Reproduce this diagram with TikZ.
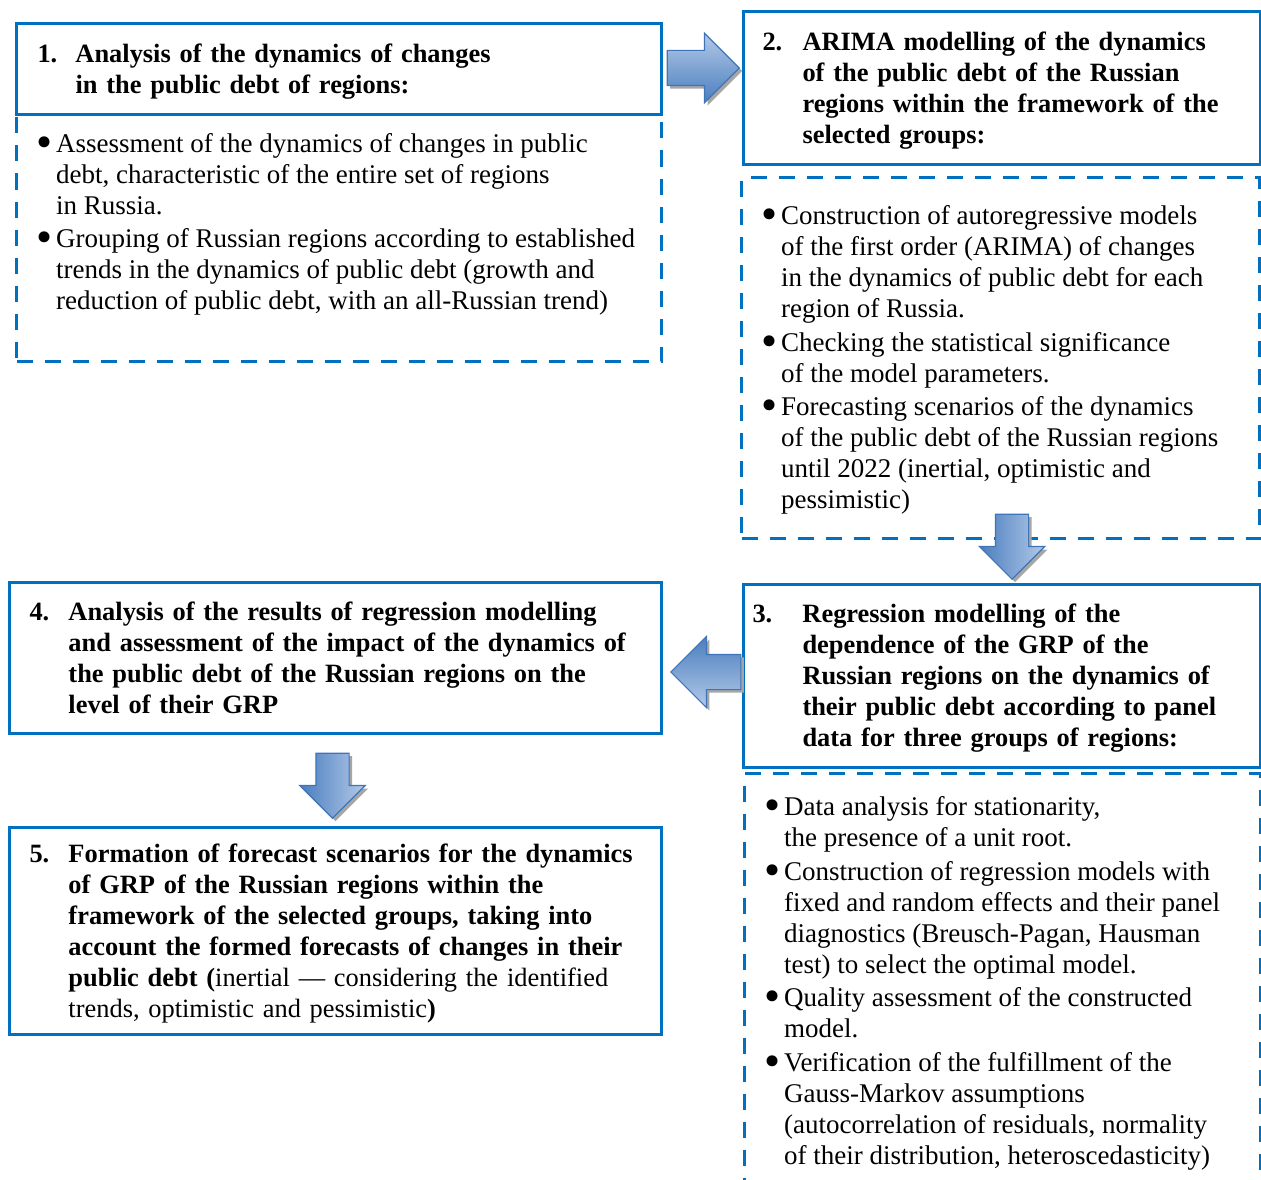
\documentclass[tikz,border=0pt]{standalone}
\usepackage{fontspec}
\setmainfont{Liberation Serif}
\usepackage{tikz}
\usetikzlibrary{shapes.arrows,shadows,positioning,calc}
\definecolor{BoxBlue}{HTML}{0070C0}
\definecolor{ArrowDark}{HTML}{4A7EBE}
\definecolor{ArrowLight}{HTML}{B3C9E8}
\definecolor{ArrowLine}{HTML}{3F74B8}
\newcommand\bul{\raisebox{-5pt}{\scalebox{1.7}{\textbullet}}}
\newcommand\topgap{\rule{0pt}{26.7pt}}

\begin{document}
\begin{tikzpicture}[x=1pt, y=-1pt,
            font=\fontsize{27}{31}\selectfont,
            headbox/.style={draw=BoxBlue, line width=3pt, anchor=north west, inner xsep=20pt, inner ysep=0pt, align=left, font=\fontsize{26.4}{31}\selectfont\bfseries},
            notebox/.style={draw=BoxBlue, line width=3pt, dash pattern=on 16pt off 12pt, anchor=north west, inner sep=0pt},
            notetext/.style={anchor=north west, inner sep=0pt},
            blockarrow/.style={single arrow, draw=ArrowLine, line width=1.2pt, anchor=tip, drop shadow={opacity=1, fill=black!35, shadow xshift=3pt, shadow yshift=-3pt}},
        ]
        \useasboundingbox (0,0) rectangle (1261,1180);

        \node[notebox, minimum width=645pt, minimum height=247pt] (d1) at (15,113) {};
        \node[notebox, minimum width=518pt, minimum height=361pt] (d2) at (740,176) {};
        \node[notebox, minimum width=516pt, minimum height=440pt] (d3) at (743,772) {};

        \node[headbox, minimum width=645pt, minimum height=91pt, inner xsep=21pt, text width=603pt] (h1) at (15,22)
            {\begin{tabular}{@{}p{38pt}@{}l@{}}\topgap 1. & Analysis of the dynamics of changes\\ & in the public debt of regions:\end{tabular}};
        \node[headbox, minimum width=517pt, minimum height=153pt, inner xsep=19pt, text width=479pt] (h2) at (742,10)
            {\begin{tabular}{@{}p{40pt}@{}l@{}}\topgap 2. & ARIMA modelling of the dynamics\\ & of the public debt of the Russian\\ & regions within the framework of the\\ & selected groups:\end{tabular}};
        \node[headbox, minimum width=517pt, minimum height=183pt, inner xsep=9pt, text width=499pt] (h3) at (742,583)
            {\begin{tabular}{@{}p{50pt}@{}l@{}}\topgap 3. & Regression modelling of the\\ & dependence of the GRP of the\\ & Russian regions on the dynamics of\\ & their public debt according to panel\\ & data for three groups of regions:\end{tabular}};
        \node[headbox, minimum width=652pt, minimum height=151pt, text width=612pt] (h4) at (8,581)
            {\begin{tabular}{@{}p{39pt}@{}l@{}}\topgap 4. & Analysis of the results of regression modelling\\ & and assessment of the impact of the dynamics of\\ & the public debt of the Russian regions on the\\ & level of their GRP\end{tabular}};
        \node[headbox, minimum width=652pt, minimum height=207pt, text width=612pt] (h5) at (8,826)
            {\begin{tabular}{@{}p{39pt}@{}l@{}}\topgap 5. & Formation of forecast scenarios for the dynamics\\ & of GRP of the Russian regions within the\\ & framework of the selected groups, taking into\\ & account the formed forecasts of changes in their\\ & public debt (\textmd{inertial --- considering the identified}\\ & \textmd{trends, optimistic and pessimistic})\end{tabular}};

        \node[notetext] (n1) at ([xshift=21pt, yshift=-18pt]d1.north west)
            {\begin{tabular}[t]{@{}p{20pt}@{}l@{}}\bul & Assessment of the dynamics of changes in public\\ & debt, characteristic of the entire set of regions\\ & in Russia.\\[2pt]
            \bul & Grouping of Russian regions according to established\\ & trends in the dynamics of public debt (growth and\\ & reduction of public debt, with an all-Russian trend)\end{tabular}};
        \node[notetext] (n2) at ([xshift=21pt, yshift=-27pt]d2.north west)
            {\begin{tabular}[t]{@{}p{20pt}@{}l@{}}\bul & Construction of autoregressive models\\ & of the first order (ARIMA) of changes\\ & in the dynamics of public debt for each\\ & region of Russia.\\[2.5pt]
            \bul & Checking the statistical significance\\ & of the model parameters.\\[2.5pt]
            \bul & Forecasting scenarios of the dynamics\\ & of the public debt of the Russian regions\\ & until 2022 (inertial, optimistic and\\ & pessimistic)\end{tabular}};
        \node[notetext] (n3) at ([xshift=21pt, yshift=-22pt]d3.north west)
            {\begin{tabular}[t]{@{}p{20pt}@{}l@{}}\bul & Data analysis for stationarity,\\ & the presence of a unit root.\\[2.5pt]
            \bul & Construction of regression models with\\ & fixed and random effects and their panel\\ & diagnostics (Breusch-Pagan, Hausman\\ & test) to select the optimal model.\\[2.5pt]
            \bul & Quality assessment of the constructed\\ & model.\\[2.5pt]
            \bul & Verification of the fulfillment of the\\ & Gauss-Markov assumptions\\ & (autocorrelation of residuals, normality\\ & of their distribution, heteroscedasticity)\end{tabular}};

        \node[blockarrow, top color=ArrowLight, bottom color=ArrowDark, inner sep=17pt, single arrow head extend=17pt, minimum height=72pt, minimum width=68pt] (a12) at ($(h2.west |- h1.east)+(-2,-1)$) {};
        \node[blockarrow, shape border rotate=270, left color=ArrowDark, right color=ArrowLight, inner sep=16pt, single arrow head extend=16pt, minimum height=65pt, minimum width=64pt] (a23) at ($(h3.north)+(10,-3)$) {};
        \node[blockarrow, shape border rotate=180, top color=ArrowDark, bottom color=ArrowLight, inner xsep=13pt, inner ysep=17pt, single arrow head extend=18pt, minimum height=70pt, minimum width=70pt] (a34) at ($(h4.east |- h3.west)+(7,-4)$) {};
        \node[blockarrow, shape border rotate=270, left color=ArrowDark, right color=ArrowLight, inner sep=16pt, single arrow head extend=16pt, minimum height=65pt, minimum width=63pt] (a45) at ($(h5.north)+(-3,-7)$) {};
    \end{tikzpicture}
\end{document}
